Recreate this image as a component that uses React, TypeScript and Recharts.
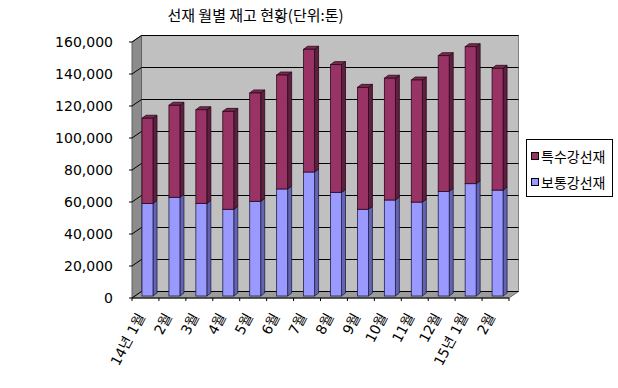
import React from 'react';
import { BarChart, Bar, XAxis, YAxis, CartesianGrid, ReferenceArea } from 'recharts';

const months = ['14년 1월', '2월', '3월', '4월', '5월', '6월', '7월', '8월', '9월', '10월', '11월', '12월', '15년 1월', '2월'];
const normalSteel = [57900, 61700, 57900, 54200, 59200, 66900, 77500, 64800, 54200, 60000, 58700, 65400, 70200, 66200];
const specialSteel = [53200, 57500, 58500, 61200, 67700, 71200, 76700, 79800, 76200, 76100, 76300, 84800, 85600, 76100];
const yTicks = [0, 20000, 40000, 60000, 80000, 100000, 120000, 140000, 160000];
const seriesNames = { special: '특수강선재', normal: '보통강선재' };
const title = '선재 월별 재고 현황(단위:톤)';

const data = months.map((m, i) => ({ month: m, normal: normalSteel[i], special: specialSteel[i] }));

const D = 9.5;
const DY = 6.5;
const NUM_FONT = '"DejaVu Sans", "Noto Sans CJK KR", sans-serif';
const KR_FONT = '"Noto Sans CJK KR", "DejaVu Sans", sans-serif';

const Walls = (p: any) => {
  const { x, y, width, height } = p;
  const n = months.length;
  const ticks = [];
  for (let i = 0; i <= n; i++) {
    const tx = x + (i * width) / n;
    ticks.push(<line key={i} x1={tx} y1={y + height} x2={tx} y2={y + height + 3} stroke="#000" strokeWidth={1} />);
  }
  return (
    <g>
      <rect x={x + D} y={y - DY} width={width} height={height} fill="#C0C0C0" stroke="#808080" strokeWidth={1} />
      <polygon points={`${x},${y} ${x + D},${y - DY} ${x + D},${y + height - DY} ${x},${y + height}`} fill="#8C8C8C" stroke="#606060" strokeWidth={1} />
      <polygon points={`${x},${y + height} ${x + D},${y + height - DY} ${x + width + D},${y + height - DY} ${x + width},${y + height}`} fill="#9C9C9C" stroke="#707070" strokeWidth={1} />
      <line x1={x} y1={y + height} x2={x + width} y2={y + height} stroke="#000" strokeWidth={1} />
      {ticks}
    </g>
  );
};

const GridLine = (p: any) => {
  const { x1, x2, y1 } = p;
  return (
    <g key={p.key}>
      <line x1={x1 - 3} y1={y1} x2={x1} y2={y1} stroke="#000" strokeWidth={1} />
      <line x1={x1} y1={y1} x2={x1 + D} y2={y1 - DY} stroke="#000" strokeWidth={1} />
      <line x1={x1 + D} y1={y1 - DY} x2={x2 + D} y2={y1 - DY} stroke="#000" strokeWidth={1} />
    </g>
  );
};

const makeBox = (front: string, side: string, top: string, stroke: string) => (p: any) => {
  const { x, y, width, height } = p;
  if (width == null || height == null || isNaN(y)) return null;
  const sx = x + 2;
  const sy = y - 2;
  const d = 4;
  const dy = 3;
  return (
    <g>
      <polygon points={`${sx + width},${sy} ${sx + width + d},${sy - dy} ${sx + width + d},${sy + height - dy} ${sx + width},${sy + height}`} fill={side} stroke={stroke} strokeWidth={0.8} />
      <polygon points={`${sx},${sy} ${sx + d},${sy - dy} ${sx + width + d},${sy - dy} ${sx + width},${sy}`} fill={top} stroke={stroke} strokeWidth={0.8} />
      <rect x={sx} y={sy} width={width} height={height} fill={front} stroke={stroke} strokeWidth={0.8} />
    </g>
  );
};

const XTick = (p: any) => {
  const { x, y, payload } = p;
  return (
    <g transform={`translate(${x},${y + 10.5})`}>
      <text textAnchor="end" transform="rotate(-62)" fontSize={14} fontFamily={NUM_FONT} fill="#000">
        {payload.value}
      </text>
    </g>
  );
};

const legendItems = [
  { name: seriesNames.special, color: '#993366' },
  { name: seriesNames.normal, color: '#9999FF' },
];

export default function App() {
  return (
    <div style={{ position: 'absolute', left: 0, top: 0, width: 618, height: 388, background: '#fff' }}>
      <div style={{ position: 'absolute', left: 0, top: 4, width: 511, textAlign: 'center', fontFamily: KR_FONT, fontSize: 15, lineHeight: '22px', color: '#000' }}>
        {title}
      </div>
      <BarChart width={618} height={388} data={data} margin={{ top: 42, right: 109, left: 0, bottom: 0 }}>
        <ReferenceArea y1={0} y2={160000} shape={Walls} zIndex={-200} ifOverflow="visible" />
        <CartesianGrid vertical={false} horizontal={GridLine as any} fill="none" />
        <XAxis dataKey="month" axisLine={false} tickLine={false} height={90} interval={0} tick={XTick} />
        <YAxis
          domain={[0, 160000]}
          ticks={yTicks}
          axisLine={false}
          tickLine={false}
          tickSize={6}
          tickMargin={13}
          width={132}
          tickFormatter={(v: number) => v.toLocaleString('en-US')}
          tick={{ fontSize: 14, fill: '#000', fontFamily: NUM_FONT }}
          allowDataOverflow
        />
        <Bar dataKey="normal" stackId="a" barSize={11} isAnimationActive={false} shape={makeBox('#9999FF', '#6464B0', '#A8A8FF', '#20204A')} />
        <Bar dataKey="special" stackId="a" barSize={11} isAnimationActive={false} shape={makeBox('#993366', '#5E1F40', '#7A2950', '#2A0A18')} />
      </BarChart>
      <div style={{ position: 'absolute', left: 526, top: 139, width: 85, height: 56, border: '1px solid #000', background: '#fff', fontFamily: KR_FONT, fontSize: 14, color: '#000' }}>
        {legendItems.map((it, i) => (
          <div key={i} style={{ position: 'absolute', left: 4, top: 6 + i * 26, height: 20, display: 'flex', alignItems: 'center', whiteSpace: 'nowrap' }}>
            <span style={{ display: 'inline-block', width: 6, height: 6, background: it.color, border: '1px solid #000', marginRight: 2 }} />
            <span>{it.name}</span>
          </div>
        ))}
      </div>
    </div>
  );
}
